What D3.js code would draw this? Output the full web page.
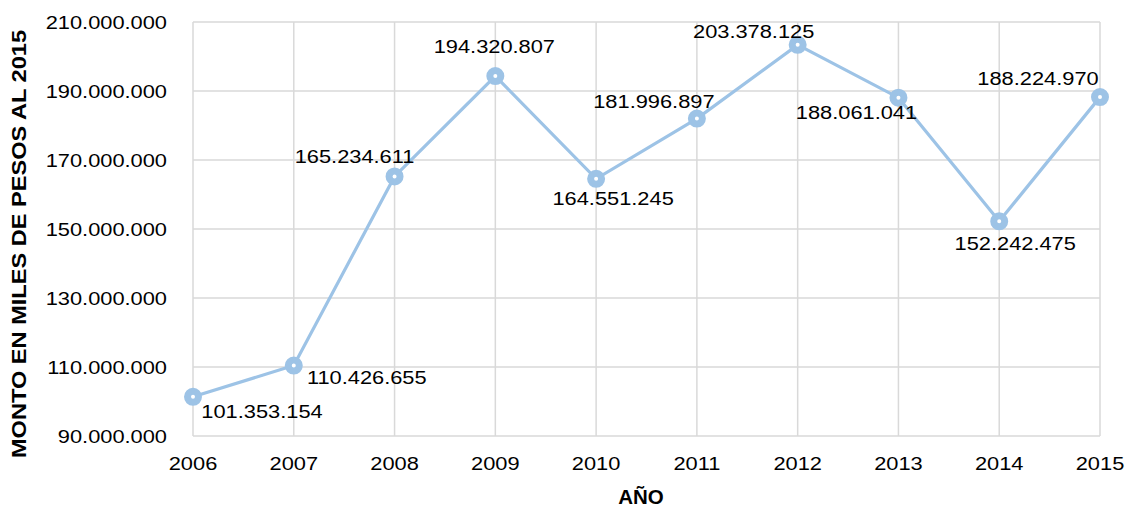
<!DOCTYPE html>
<html>
<head>
<meta charset="utf-8">
<script src="https://cdn.jsdelivr.net/npm/d3@7"></script>
<style>
  body { margin: 0; background: #fff; }
  text { font-family: "Liberation Sans", Arial, sans-serif; fill: #000; }
</style>
</head>
<body>
<div id="chart"></div>
<script>
// data
var years = [2006, 2007, 2008, 2009, 2010, 2011, 2012, 2013, 2014, 2015]
var montos = [101353154, 110426655, 165234611, 194320807, 164551245, 181996897, 203378125, 188061041, 152242475, 188224970]
var yTicks = [90000000, 110000000, 130000000, 150000000, 170000000, 190000000, 210000000]
// label offsets from each point (center x, baseline y)
var labelDx = [69, 73, -40, -1, 17, -43, -44, -42, 16, -62]
var labelDy = [21, 18, -13, -23, 26, -11, -7, 21, 29, -12]

var W = 1126, H = 508
var stretch = 1.18

var svg = d3.select("#chart").append("svg")
    .attr("width", W)
    .attr("height", H)

var x = d3.scalePoint()
    .domain(years)
    .range([193, 1100])
var y = d3.scaleLinear()
    .domain([90000000, 210000000])
    .range([436, 22])

var fmt = function(v) { return d3.format(",")(v).replace(/,/g, ".") }

// grid
svg.append("g").selectAll("line")
    .data(yTicks)
    .enter().append("line")
    .attr("x1", x(years[0])).attr("x2", x(years[years.length - 1]))
    .attr("y1", d => y(d)).attr("y2", d => y(d))
    .attr("stroke", "#d9d9d9")
    .attr("stroke-width", 1.5)
svg.append("g").selectAll("line")
    .data(years)
    .enter().append("line")
    .attr("x1", d => x(d)).attr("x2", d => x(d))
    .attr("y1", y(90000000)).attr("y2", y(210000000))
    .attr("stroke", "#d9d9d9")
    .attr("stroke-width", 1.5)

// y tick labels
svg.append("g").selectAll("text")
    .data(yTicks)
    .enter().append("text")
    .attr("transform", d => "translate(167," + (y(d) + 7) + ") scale(" + stretch + ",1)")
    .attr("text-anchor", "end")
    .style("font-size", "18.5px")
    .text(d => fmt(d))

// x tick labels
svg.append("g").selectAll("text")
    .data(years)
    .enter().append("text")
    .attr("transform", d => "translate(" + x(d) + ",470) scale(" + stretch + ",1)")
    .attr("text-anchor", "middle")
    .style("font-size", "18.5px")
    .text(d => d)

// axis titles
svg.append("text")
    .attr("transform", "translate(641,504)")
    .attr("text-anchor", "middle")
    .style("font-size", "20.5px")
    .style("font-weight", "bold")
    .text("AÑO")
svg.append("text")
    .attr("transform", "translate(26,244) rotate(-90) scale(1.18,1)")
    .attr("text-anchor", "middle")
    .style("font-size", "20px")
    .style("font-weight", "bold")
    .text("MONTO EN MILES DE PESOS AL 2015")

// line
var pts = years.map((yr, i) => ({ year: yr, v: montos[i], i: i }))
var line = d3.line()
    .x(d => x(d.year))
    .y(d => y(d.v))
svg.append("path")
    .datum(pts)
    .attr("d", line)
    .attr("fill", "none")
    .attr("stroke", "#9dc3e6")
    .attr("stroke-width", 3.2)

svg.append("g").selectAll("circle")
    .data(pts)
    .enter().append("circle")
    .attr("cx", d => x(d.year))
    .attr("cy", d => y(d.v))
    .attr("r", 5.5)
    .attr("fill", "#fff")
    .attr("stroke", "#9dc3e6")
    .attr("stroke-width", 7)

// data labels
svg.append("g").selectAll("text")
    .data(pts)
    .enter().append("text")
    .attr("transform", d => "translate(" + (x(d.year) + labelDx[d.i]) + "," + (y(d.v) + labelDy[d.i]) + ") scale(" + stretch + ",1)")
    .attr("text-anchor", "middle")
    .style("font-size", "18.5px")
    .text(d => fmt(d.v))
</script>
</body>
</html>
